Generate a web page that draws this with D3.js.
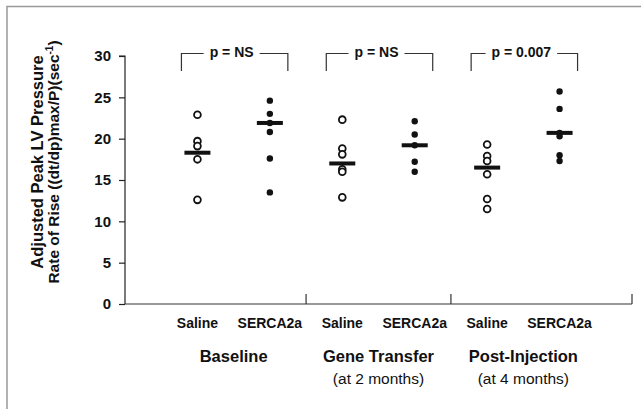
<!DOCTYPE html>
<html>
<head>
<meta charset="utf-8">
<script src="https://cdn.jsdelivr.net/npm/d3@7"></script>
<style>
  body { margin: 0; background: #fff; }
  text { font-family: "Liberation Sans", Arial, sans-serif; fill: #111; }
</style>
</head>
<body>
<script>
// chart data
var groups = ["Baseline", "Gene Transfer", "Post-Injection"];
var groupNotes = ["", "(at 2 months)", "(at 4 months)"];
var treatments = ["Saline", "SERCA2a"];
var pLabels = ["p = NS", "p = NS", "p = 0.007"];
var salineValues = [
  [22.9, 19.7, 19.1, 17.5, 12.6],
  [22.3, 18.8, 18.1, 16.3, 16.0, 12.9],
  [19.3, 17.9, 17.3, 15.7, 12.7, 11.5]
];
var sercaValues = [
  [24.6, 23.0, 21.9, 20.8, 17.6, 13.5],
  [22.1, 20.5, 19.2, 17.2, 16.0],
  [25.7, 23.6, 20.7, 20.3, 18.0, 17.3]
];
var salineMeans = [18.3, 17.0, 16.5];
var sercaMeans = [21.9, 19.2, 20.7];
var yTicks = [0, 5, 10, 15, 20, 25, 30];

var W = 641, H = 409;
var margin = {top: 56, right: 9, bottom: 105, left: 125};
var width = W - margin.left - margin.right;
var height = H - margin.top - margin.bottom;

var svg = d3.select("body").append("svg")
    .attr("width", W)
    .attr("height", H);

// grey frame of the figure panel
svg.append("path")
    .attr("d", "M7," + H + "V6.5H" + W)
    .attr("fill", "none")
    .attr("stroke", "#999")
    .attr("stroke-width", 1.5);

var g = svg.append("g")
    .attr("transform", "translate(" + margin.left + "," + margin.top + ")");

// one slot for every group x treatment
var slots = [];
groups.forEach(function(gr, i) {
  treatments.forEach(function(t) { slots.push(i + "|" + t); });
});

var x = d3.scalePoint().domain(slots).range([0, width]).padding(1);
var y = d3.scaleLinear().domain([0, 30]).range([height, 0]);

// y axis
var yAxis = g.append("g")
    .call(d3.axisLeft(y).tickValues(yTicks).tickSize(6).tickPadding(8));
yAxis.select(".domain").attr("stroke", "#222").attr("stroke-width", 1.2)
    .attr("d", "M-6," + y(30) + "H0V" + y(0));
yAxis.selectAll(".tick line").attr("stroke", "#222").attr("stroke-width", 1.2);
yAxis.selectAll(".tick text")
    .attr("font-size", 15).attr("font-weight", "bold")
    .attr("font-family", "Liberation Sans, Arial, sans-serif").attr("fill", "#111");

// x axis line with group dividers
g.append("line")
    .attr("x1", 0).attr("x2", width)
    .attr("y1", height).attr("y2", height)
    .attr("stroke", "#333").attr("stroke-width", 1.2);

var step = x.step();
var dividers = [x("0|SERCA2a") + step / 2, x("1|SERCA2a") + step / 2, width];
g.selectAll(".divider")
    .data(dividers)
    .enter().append("line")
    .attr("x1", function(d) { return d; })
    .attr("x2", function(d) { return d; })
    .attr("y1", height)
    .attr("y2", height - 10)
    .attr("stroke", "#333").attr("stroke-width", 1.2);

// treatment labels
g.selectAll(".cat")
    .data(slots)
    .enter().append("text")
    .attr("x", function(d) { return x(d); })
    .attr("y", height + 24)
    .attr("text-anchor", "middle")
    .attr("font-size", 14)
    .attr("font-weight", "bold")
    .text(function(d) { return d.split("|")[1]; });

// group labels
groups.forEach(function(gr, i) {
  var cx = (x(i + "|Saline") + x(i + "|SERCA2a")) / 2;
  g.append("text")
      .attr("x", cx).attr("y", height + 58)
      .attr("text-anchor", "middle")
      .attr("font-size", 16.5).attr("font-weight", "bold")
      .text(gr);
  if (groupNotes[i]) {
    g.append("text")
        .attr("x", cx).attr("y", height + 80)
        .attr("text-anchor", "middle")
        .attr("font-size", 15.5)
        .text(groupNotes[i]);
  }
});

// y axis title
var title = svg.append("text")
    .attr("transform", "translate(43,162) rotate(-90)")
    .attr("text-anchor", "middle")
    .attr("font-weight", "bold");
title.append("tspan").attr("x", 0).attr("font-size", 16.5)
    .text("Adjusted Peak LV Pressure");
var l2 = title.append("tspan").attr("x", 0).attr("dy", 16).attr("font-size", 15.5)
    .text("Rate of Rise ((dt/dp)max/P)(sec");
title.append("tspan").attr("font-size", 10).attr("dy", -6).text("-1");
title.append("tspan").attr("dy", 6).attr("font-size", 15.5).text(")");

// significance brackets
groups.forEach(function(gr, i) {
  var x0 = x(i + "|Saline") - 16, x1 = x(i + "|SERCA2a") + 18;
  var top = y(30) - 2.5, bot = y(30) + 15;
  var cx = (x0 + x1) / 2 - 3;
  var label = g.append("text")
      .attr("x", cx).attr("y", top + 3)
      .attr("text-anchor", "middle")
      .attr("font-size", 14).attr("font-weight", "bold")
      .text(pLabels[i]);
  var tw = label.node().getComputedTextLength();
  g.append("path")
      .attr("d", "M" + x0 + "," + bot + "V" + top + "H" + (cx - tw / 2 - 6) +
                 "M" + (cx + tw / 2 + 6) + "," + top + "H" + x1 + "V" + bot)
      .attr("fill", "none").attr("stroke", "#333").attr("stroke-width", 1.2);
});

// individual animals
var pts = [];
groups.forEach(function(gr, i) {
  salineValues[i].forEach(function(v) { pts.push({slot: i + "|Saline", v: v, open: true}); });
  sercaValues[i].forEach(function(v) { pts.push({slot: i + "|SERCA2a", v: v, open: false}); });
});

// mean bars
var means = [];
groups.forEach(function(gr, i) {
  means.push({slot: i + "|Saline", v: salineMeans[i]});
  means.push({slot: i + "|SERCA2a", v: sercaMeans[i]});
});

g.selectAll(".pt")
    .data(pts)
    .enter().append("circle")
    .attr("cx", function(d) { return x(d.slot); })
    .attr("cy", function(d) { return y(d.v); })
    .attr("r", function(d) { return d.open ? 3.4 : 3.2; })
    .attr("fill", function(d) { return d.open ? "#fff" : "#111"; })
    .attr("stroke", "#111")
    .attr("stroke-width", function(d) { return d.open ? 1.8 : 0; });

g.selectAll(".mean")
    .data(means)
    .enter().append("rect")
    .attr("x", function(d) { return x(d.slot) - 13; })
    .attr("y", function(d) { return y(d.v) - 2; })
    .attr("width", 26)
    .attr("height", 4)
    .attr("fill", "#111");
</script>
</body>
</html>
